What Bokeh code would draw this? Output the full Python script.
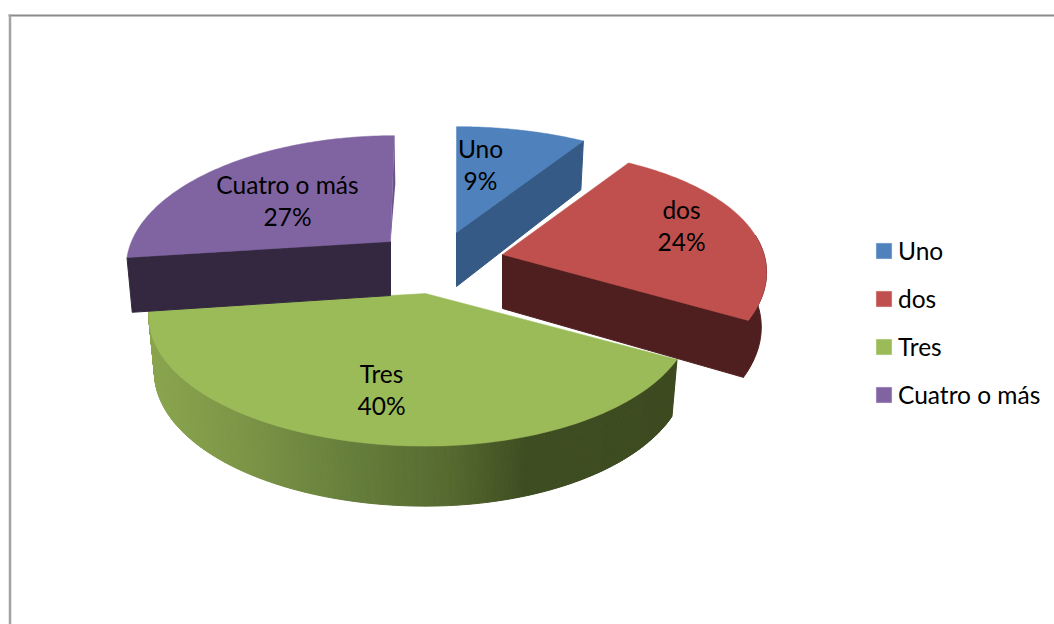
import numpy as np
from bokeh.plotting import figure
from bokeh.models import ColumnDataSource, Legend, LegendItem, Range1d
from bokeh.core.properties import value
from bokeh.embed import file_html
from bokeh.resources import INLINE

categories = ["Uno", "dos", "Tres", "Cuatro o más"]
percents = [9, 24, 40, 27]
top_colors = ["#4f81bd", "#c0504d", "#9bbb59", "#8064a2"]
side_colors = ["#355a85", "#4f1e1e", "#3d4a20", "#33283f"]

# layout of the exploded slices, in page pixels
apex_x = [456, 502, 425, 390]
apex_y = [232, 254, 293, 241]
label_x = [480, 681, 381, 287]
label_y = [147.5, 208.5, 372.5, 183.5]
radius_right = [273, 261.5, 262, 262]
radius_left = [273, 261.5, 272, 259]
taper = [0, 0.0433, 0, 0]
shear = [0, 0, 0, 0.037]
B, K = 125.0, 0.181
gradient_x = [150, 250, 350, 450, 525, 680]
gradient_rgb = [(0x8b, 0xa6, 0x4f), (0x7b, 0x94, 0x46), (0x67, 0x7f, 0x3c),
                (0x56, 0x6a, 0x30), (0x3f, 0x4e, 0x22), (0x3d, 0x4a, 0x20)]

W, H = 1054, 624
FONT = "Lato"
FS = "24.5px"

p = figure(width=W, height=H, output_backend="svg", toolbar_location=None,
           x_range=Range1d(0, W), y_range=Range1d(H, 0),
           min_border=0, outline_line_color=None, background_fill_color="white")
p.axis.visible = False
p.grid.visible = False

# chart frame
p.segment([8], [15], [W], [15], line_color="#8a8a8a", line_width=2)
p.segment([9.5], [14], [9.5], [H], line_color="#a3a3a3", line_width=2.5)


def project(theta, i):
    s, c = np.sin(theta), np.cos(theta)
    w = 1 + K * c
    r = np.where(s >= 0, radius_right[i], radius_left[i]) * (1 + taper[i] * c)
    dy = -B * c / w
    return apex_x[i] + r * s / w - shear[i] * dy, apex_y[i] + dy


def lower(x, y, theta, ax):
    depth = 54 - 6 * np.cos(theta)
    return ax + (x - ax) * 0.98, y + depth


total = sum(percents)
edges = np.cumsum([0] + percents) / total * 2 * np.pi
spans = [np.linspace(edges[i], edges[i + 1], 90) for i in range(4)]


def side_cut(i, theta, color):
    ax, ay = apex_x[i], apex_y[i]
    x, y = project(theta, i)
    x2, y2 = lower(x, y, theta, ax)
    p.patch([ax, x, x2, ax], [ay, y, y2, ay + 54], fill_color=color, line_color=color, line_width=1)


def outer_wall(i, color, from_theta):
    t = spans[i][spans[i] >= from_theta]
    x, y = project(t, i)
    x2, y2 = lower(x, y, t, apex_x[i])
    p.patch(np.r_[x, x2[::-1]], np.r_[y, y2[::-1]], fill_color=color, line_color=color, line_width=1)


def face(i):
    ax, ay = apex_x[i], apex_y[i]
    x, y = project(spans[i], i)
    return p.patch(np.r_[ax, x], np.r_[ay, y], fill_color=top_colors[i],
                   line_color=top_colors[i], line_width=0.5)


# Tres: outer wall with its horizontal shading
t = np.linspace(edges[2], edges[3], 300)
x, y = project(t, 2)
x2, y2 = lower(x, y, t, apex_x[2])
xs, ys, cols = [], [], []
for j in range(len(t) - 1):
    xs.append([x[j], x[j + 1], x2[j + 1], x2[j]])
    ys.append([y[j], y[j + 1], y2[j + 1], y2[j]])
    mx = (x[j] + x2[j]) / 2
    rgb = [int(np.interp(mx, gradient_x, [g[k] for g in gradient_rgb])) for k in range(3)]
    cols.append("#%02x%02x%02x" % tuple(rgb))
p.patches("xs", "ys", fill_color="cols", line_color="cols", line_width=1,
          source=ColumnDataSource(dict(xs=xs, ys=ys, cols=cols)))
r_tres = face(2)

# Cuatro o más: cut face in front, and the thin sliver of its right cut
side_cut(3, edges[3], side_colors[3])
cx, cy = project(edges[4], 3)
cx2, cy2 = lower(cx, cy, edges[4], apex_x[3])
p.patch([apex_x[3], cx, cx2 + 1], [apex_y[3], cy, cy2], fill_color="#6b5389", line_color=None)
r_cuatro = face(3)

# Uno
side_cut(0, edges[1], side_colors[0])
r_uno = face(0)

# dos
outer_wall(1, side_colors[1], 1.4)
side_cut(1, edges[2], side_colors[1])
r_dos = face(1)

# data labels
for i in range(4):
    p.text([label_x[i], label_x[i]], [label_y[i], label_y[i] + 32],
           text=[categories[i], f"{percents[i]}%"], text_align="center", text_baseline="middle",
           text_font=value(FONT), text_font_size=FS, text_color="#000000")

legend = Legend(items=[LegendItem(label=c, renderers=[r])
                       for c, r in zip(categories, [r_uno, r_dos, r_tres, r_cuatro])],
                location=(874, 215), orientation="vertical", border_line_color=None,
                background_fill_alpha=0, padding=0, margin=0, glyph_width=19, glyph_height=19,
                label_standoff=5, spacing=19, label_height=22,
                label_text_font=FONT, label_text_font_size=FS, label_text_color="#000000")
p.add_layout(legend, "center")

open("out.html", "w").write(file_html(p, INLINE))
